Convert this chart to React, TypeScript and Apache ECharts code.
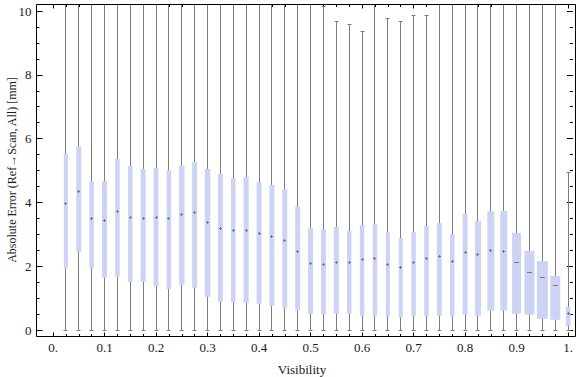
import React, { useEffect, useRef } from "react";
import * as echarts from "echarts";

// ---- data ----
const visibility = [
  0.025, 0.05, 0.075, 0.1, 0.125, 0.15, 0.175, 0.2, 0.225, 0.25,
  0.275, 0.3, 0.325, 0.35, 0.375, 0.4, 0.425, 0.45, 0.475, 0.5,
  0.525, 0.55, 0.575, 0.6, 0.625, 0.65, 0.675, 0.7, 0.725, 0.75,
  0.775, 0.8, 0.825, 0.85, 0.875, 0.9, 0.925, 0.95, 0.975, 1.0,
];
const q3 = [
  5.54, 5.75, 4.67, 4.67, 5.36, 5.14, 5.05, 5.08, 5.01, 5.15,
  5.27, 5.05, 4.89, 4.76, 4.80, 4.63, 4.55, 4.42, 3.86, 3.20,
  3.16, 3.23, 3.10, 3.29, 3.32, 3.07, 2.88, 3.07, 3.26, 3.35,
  3.01, 3.64, 3.42, 3.72, 3.73, 3.04, 2.48, 2.16, 1.69, 0.72,
];
const median = [
  3.96, 4.33, 3.49, 3.43, 3.73, 3.52, 3.49, 3.52, 3.48, 3.63,
  3.67, 3.36, 3.18, 3.11, 3.11, 3.03, 2.93, 2.79, 2.47, 2.10,
  2.05, 2.13, 2.12, 2.20, 2.25, 2.05, 1.97, 2.12, 2.24, 2.30,
  2.14, 2.44, 2.37, 2.50, 2.47, 2.12, 1.79, 1.65, 1.39, 0.52,
];
const q1 = [
  1.93, 2.45, 1.93, 1.64, 1.67, 1.51, 1.51, 1.36, 1.29, 1.42,
  1.33, 1.04, 0.89, 0.86, 0.85, 0.83, 0.76, 0.70, 0.61, 0.51,
  0.49, 0.51, 0.51, 0.45, 0.45, 0.42, 0.39, 0.45, 0.45, 0.45,
  0.42, 0.48, 0.45, 0.61, 0.61, 0.51, 0.48, 0.35, 0.32, 0.13,
];
const whiskerLow = [
  0, 0, 0, 0, 0, 0, 0, 0, 0, 0,
  0, 0, 0, 0, 0, 0, 0, 0, 0, 0,
  0, 0, 0, 0, 0, 0, 0, 0, 0, 0,
  0, 0, 0, 0, 0, 0, 0, 0, 0, 0,
];
// values above the plot top are clipped in the reference (estimated)
const whiskerHigh = [
  12, 12, 12, 12, 12, 12, 12, 12, 12, 12,
  12, 12, 12, 12, 12, 12, 12, 12, 12, 12,
  10.13, 9.68, 9.58, 9.36, 12, 9.77, 9.68, 9.86, 9.86, 12,
  12, 12, 12, 12, 12, 12, 12, 12, 12, 4.95,
];
const yTicks = [0, 2, 4, 6, 8, 10];

// ---- styles ----
const BOX_WIDTHS = [
  4, 5, 4.5, 5, 4.5, 4.5, 5, 5, 4.5, 5.5,
  5, 5.5, 5, 4.5, 5, 5, 5, 5, 5, 5,
  5, 5, 4.5, 4.5, 4.5, 4, 4, 4.5, 4.5, 5,
  4.5, 5, 6, 7, 7, 9, 10, 11, 10, 4.5,
];
const FONT = "'Liberation Serif', 'Times New Roman', serif";
const TEXT_COLOR = "#1a1a1a";
const BOX_FILL = "#ccd3f4";
const WHISKER = "#7c7c7c";
const MARK = "#7a7a7a";
const FRAME_TOP = 4.5;

export default function App() {
  const ref = useRef<HTMLDivElement>(null);
  useEffect(() => {
    document.body.style.margin = "0";
    if (!ref.current) return;
    const chart = echarts.init(ref.current, undefined, { renderer: "svg" });

    const data = visibility.map((v, i) => [v, q1[i], median[i], q3[i], whiskerLow[i], whiskerHigh[i]]);

    const snap = (p: number) => Math.round(p - 0.5) + 0.5;

    const renderItem = (params: any, api: any) => {
      const i = params.dataIndex;
      const x = api.value(0);
      const [cx] = api.coord([x, 0]);
      const sx = snap(cx);
      const yq1 = api.coord([x, api.value(1)])[1];
      const ymed = api.coord([x, api.value(2)])[1];
      const yq3 = api.coord([x, api.value(3)])[1];
      const ylo = snap(api.coord([x, api.value(4)])[1]);
      const rawHi = api.coord([x, api.value(5)])[1];
      const clipped = rawHi < FRAME_TOP;
      const yhi = clipped ? FRAME_TOP : snap(rawHi);
      const w = BOX_WIDTHS[i];
      const lineStyle = { stroke: WHISKER, lineWidth: 1 };
      const children: any[] = [
        { type: "line", shape: { x1: sx, y1: ylo, x2: sx, y2: yhi }, style: lineStyle },
        { type: "line", shape: { x1: sx - 2, y1: ylo, x2: sx + 2, y2: ylo }, style: lineStyle },
      ];
      if (!clipped) {
        children.push({ type: "line", shape: { x1: sx - 2, y1: yhi, x2: sx + 2, y2: yhi }, style: lineStyle });
      }
      children.push({
        type: "rect",
        shape: { x: cx - w / 2, y: yq3, width: w, height: yq1 - yq3 },
        style: { fill: BOX_FILL, stroke: "none" },
      });
      const my = snap(ymed);
      if (w > 8) {
        children.push({ type: "line", shape: { x1: sx - 2.5, y1: my, x2: sx + 2.5, y2: my }, style: { stroke: MARK, lineWidth: 1 } });
      } else {
        children.push({ type: "line", shape: { x1: sx - 1.5, y1: my, x2: sx + 1.5, y2: my }, style: { stroke: MARK, lineWidth: 1 } });
        children.push({ type: "line", shape: { x1: sx, y1: my - 1.5, x2: sx, y2: my + 1.5 }, style: { stroke: MARK, lineWidth: 1 } });
      }
      return { type: "group", children };
    };

    const xLabel = (v: number) => {
      const r = Math.round(v * 10) / 10;
      if (r === 0) return "0.";
      if (r === 1) return "1.";
      return r.toFixed(1);
    };

    const tickLine = { color: "#000", width: 1 };
    const noLine = { show: false, onZero: false };

    chart.setOption({
      animation: false,
      grid: { left: 53, right: 5.3, top: 11, bottom: 47 },
      xAxis: [
        {
          type: "value", position: "bottom", min: 0, max: 1, interval: 0.1, offset: 6.5,
          axisLine: noLine,
          axisTick: { show: true, inside: true, length: 4, lineStyle: tickLine },
          minorTick: { show: true, splitNumber: 4, length: 2.5, lineStyle: tickLine },
          splitLine: { show: false },
          axisLabel: { formatter: xLabel, color: TEXT_COLOR, fontFamily: FONT, fontSize: 13, margin: 4 },
        },
        {
          type: "value", position: "top", min: 0, max: 1, interval: 0.1, offset: 6.5,
          axisLine: noLine,
          axisTick: { show: true, inside: true, length: 4, lineStyle: tickLine },
          minorTick: { show: true, splitNumber: 4, length: 2.5, lineStyle: tickLine },
          splitLine: { show: false },
          axisLabel: { show: false },
        },
      ],
      yAxis: [
        {
          type: "value", position: "left", min: yTicks[0], max: yTicks[yTicks.length - 1], interval: 2, offset: 16.5,
          axisLine: noLine,
          axisTick: { show: true, inside: true, length: 6, lineStyle: tickLine },
          minorTick: { show: true, splitNumber: 4, length: 3, lineStyle: tickLine },
          splitLine: { show: false },
          axisLabel: { color: TEXT_COLOR, fontFamily: FONT, fontSize: 13, margin: 5 },
        },
        {
          type: "value", position: "right", min: yTicks[0], max: yTicks[yTicks.length - 1], interval: 2, offset: 4.8,
          axisLine: noLine,
          axisTick: { show: true, inside: true, length: 6, lineStyle: tickLine },
          minorTick: { show: true, splitNumber: 4, length: 3, lineStyle: tickLine },
          splitLine: { show: false },
          axisLabel: { show: false },
        },
      ],
      graphic: [
        {
          type: "rect", z: 100, silent: true,
          shape: { x: 36.5, y: 4.5, width: 539, height: 332 },
          style: { fill: "none", stroke: "#000", lineWidth: 1 },
        },
        {
          type: "text", x: 302, y: 369,
          style: { text: "Visibility", fill: TEXT_COLOR, font: `13px ${FONT}`, textAlign: "center", textVerticalAlign: "middle" },
        },
        {
          type: "text", x: 12, y: 170, rotation: Math.PI / 2,
          style: { text: "Absolute Error (Ref\u2192Scan, All) [mm]", fill: TEXT_COLOR, font: `12px ${FONT}`, textAlign: "center", textVerticalAlign: "middle" },
        },
      ],
      series: [
        {
          type: "custom",
          xAxisIndex: 0,
          yAxisIndex: 0,
          renderItem,
          encode: { x: 0, y: [1, 2, 3, 4, 5] },
          data,
          clip: false,
        },
      ],
    });
    return () => chart.dispose();
  }, []);
  return <div ref={ref} style={{ width: 576, height: 377 }} />;
}
